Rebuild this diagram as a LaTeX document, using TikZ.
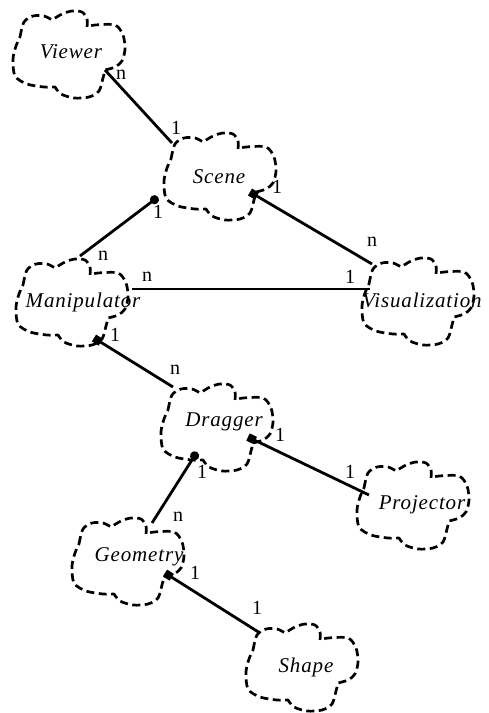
\documentclass[tikz,border=0pt]{standalone}
\usepackage{fontspec}
\setmainfont{Liberation Serif}
\newfontfamily\cloudfont{Liberation Serif}[LetterSpace=4]
\usetikzlibrary{arrows.meta}
\tikzset{
  cloudline/.style={line width=2.7pt, dash pattern=on 8pt off 4.5pt, line join=round},
  cloudtext/.style={font=\cloudfont\itshape\fontsize{21}{21}\selectfont, inner sep=0pt},
  lab/.style={font=\fontsize{20}{20}\selectfont, inner sep=0pt},
  assoc/.style={line width=2.8pt},
  circ/.style={assoc, -{Circle[length=9pt]}},
  sqr/.style={assoc, -{Square[length=8pt]}},
  bcloud/.pic={
    \draw[cloudline]
      plot[smooth] coordinates {(-49,-17) (-45,-32) (-36,-38) (-25,-38) (-17,-34)}
      -- plot[smooth] coordinates {(-17,-34) (-7,-40) (3,-43) (13,-42) (18,-35) (18,-27)}
      -- plot[smooth] coordinates {(18,-27) (26,-29) (46,-29) (54,-19) (56,-5) (53,7) (46,13) (36,16)}
      -- plot[smooth] coordinates {(36,16) (34,24) (30,37) (20,43) (5,44) (-8,40) (-14,33)}
      -- plot[smooth] coordinates {(-14,33) (-25,33) (-42,30) (-54,22) (-56,5) (-53,-8) (-49,-17)}
      -- cycle;
  }
}
\begin{document}
\begin{tikzpicture}[x=1pt,y=-1pt]
\useasboundingbox (0,0) rectangle (489,713);
% clouds
\pic at (69,54) {bcloud};
\pic at (220,176) {bcloud};
\pic at (72,302) {bcloud};
\pic at (418,301) {bcloud};
\pic at (217,427) {bcloud};
\pic at (413,505) {bcloud};
\pic at (128,561) {bcloud};
\pic at (302,667) {bcloud};
% class names
\node[cloudtext] (viewer) at (71,52) {Viewer};
\node[cloudtext] (scene) at (219,177) {Scene};
\node[cloudtext] (manip) at (83,302) {Manipulator};
\node[cloudtext] (vis) at (422,300) {Visualization};
\node[cloudtext] (dragger) at (224,422) {Dragger};
\node[cloudtext] (proj) at (422,505) {Projector};
\node[cloudtext] (geom) at (139,557) {Geometry};
\node[cloudtext] (shape) at (306,667) {Shape};
% attachment points
\coordinate (viewerSE) at (105,70);
\coordinate (sceneTL) at (172,143);
\coordinate (sceneBL) at (158,197);
\coordinate (sceneBR) at (250,192);
\coordinate (manipT) at (80,256);
\coordinate (manipR) at (132,289);
\coordinate (manipB) at (94,338);
\coordinate (visTL) at (372,264);
\coordinate (visL) at (370,289);
\coordinate (draggerTL) at (173,387);
\coordinate (draggerB) at (197,452);
\coordinate (draggerR) at (248,437);
\coordinate (projTL) at (369,495);
\coordinate (geomT) at (152,523);
\coordinate (geomR) at (165,573);
\coordinate (shapeTL) at (260,633);
% connectors
\draw[assoc] (viewerSE) -- (sceneTL);
\draw[circ] (manipT) -- (sceneBL);
\draw[sqr] (visTL) -- (sceneBR);
\draw[assoc] (manipR) -- (visL);
\draw[sqr] (draggerTL) -- (manipB);
\draw[circ] (geomT) -- (draggerB);
\draw[sqr] (projTL) -- (draggerR);
\draw[sqr] (shapeTL) -- (geomR);
% multiplicities
\node[lab] (m1) at (121,75) {n};
\node[lab] (m2) at (176,128) {1};
\node[lab] (m3) at (158,212) {1};
\node[lab] (m4) at (103,256) {n};
\node[lab] (m5) at (277,187) {1};
\node[lab] (m6) at (372,242) {n};
\node[lab] (m7) at (147,277) {n};
\node[lab] (m8) at (350,277) {1};
\node[lab] (m9) at (115,335) {1};
\node[lab] (m10) at (175,370) {n};
\node[lab] (m11) at (202,472) {1};
\node[lab] (m12) at (178,517) {n};
\node[lab] (m13) at (280,435) {1};
\node[lab] (m14) at (350,472) {1};
\node[lab] (m15) at (195,573) {1};
\node[lab] (m16) at (257,608) {1};
\end{tikzpicture}
\end{document}
